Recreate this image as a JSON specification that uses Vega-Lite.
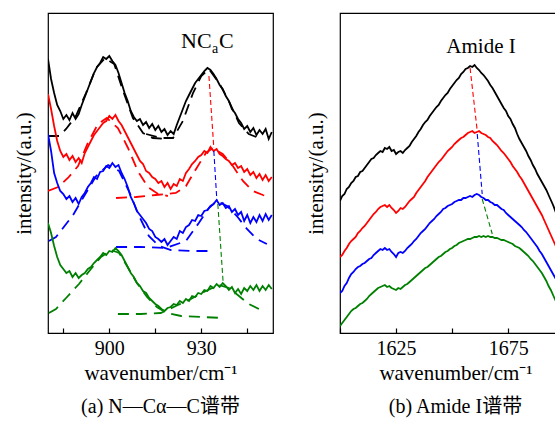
{
"$schema": "https://vega.github.io/schema/vega-lite/v6.json",
"padding": {"left": 12, "top": 12, "right": 0, "bottom": 0},
"spacing": 30,
"config": {
  "font": "Liberation Serif",
  "view": {"stroke": "black", "strokeWidth": 1.2},
  "axis": {"grid": false, "domain": false, "labelFont": "Liberation Serif", "titleFont": "Liberation Serif", "labelFontSize": 20, "titleFontSize": 21, "labelColor": "black", "titleColor": "black", "titleFontWeight": "normal", "tickColor": "black", "tickWidth": 1.2}
},
"datasets": {
  "sa": [
{"w":880,"k":274,"r":239,"b":199,"g":110},{"w":881,"k":254,"r":224,"b":182,"g":100},{"w":882,"k":240,"r":207,"b":160,"g":87},{"w":883,"k":228,"r":192,"b":150,"g":76},{"w":884,"k":222,"r":182,"b":142,"g":68},{"w":885,"k":214,"r":176,"b":139,"g":64},{"w":886,"k":218,"r":179,"b":134,"g":60},{"w":887,"k":213,"r":173,"b":137,"g":62},{"w":888,"k":220,"r":177,"b":131,"g":56},{"w":889,"k":214,"r":171,"b":135,"g":60},{"w":890,"k":219,"r":175,"b":129,"g":55},{"w":891,"k":228,"r":170,"b":136,"g":58},{"w":892,"k":236,"r":180,"b":140,"g":60},{"w":893,"k":244,"r":186,"b":146,"g":64},{"w":894,"k":252,"r":192,"b":150,"g":66},{"w":895,"k":260,"r":198,"b":156,"g":70},{"w":896,"k":266,"r":202,"b":154,"g":73},{"w":897,"k":270,"r":206,"b":161,"g":76},{"w":898,"k":276,"r":210,"b":162,"g":80},{"w":899,"k":274,"r":212,"b":167,"g":78},{"w":900,"k":277,"r":217,"b":165,"g":82},{"w":901,"k":272,"r":214,"b":170,"g":81},{"w":902,"k":268,"r":218,"b":166,"g":85},{"w":903,"k":260,"r":212,"b":168,"g":82},{"w":904,"k":250,"r":208,"b":160,"g":78},{"w":905,"k":240,"r":202,"b":154,"g":72},{"w":906,"k":232,"r":196,"b":146,"g":66},{"w":907,"k":222,"r":190,"b":136,"g":60},{"w":908,"k":216,"r":184,"b":130,"g":56},{"w":909,"k":212,"r":178,"b":122,"g":50},{"w":910,"k":214,"r":172,"b":118,"g":47},{"w":911,"k":208,"r":169,"b":114,"g":42},{"w":912,"k":211,"r":162,"b":110,"g":40},{"w":913,"k":205,"r":160,"b":104,"g":35},{"w":914,"k":209,"r":156,"b":102,"g":32},{"w":915,"k":203,"r":154,"b":96,"g":29},{"w":916,"k":207,"r":150,"b":94,"g":27},{"w":917,"k":201,"r":152,"b":91,"g":24},{"w":918,"k":204,"r":146,"b":94,"g":22},{"w":919,"k":198,"r":150,"b":88,"g":25},{"w":920,"k":202,"r":144,"b":92,"g":26},{"w":921,"k":199,"r":149,"b":96,"g":29},{"w":922,"k":208,"r":147,"b":94,"g":28},{"w":923,"k":216,"r":154,"b":102,"g":32},{"w":924,"k":224,"r":152,"b":100,"g":30},{"w":925,"k":232,"r":160,"b":106,"g":34},{"w":926,"k":238,"r":164,"b":108,"g":32},{"w":927,"k":244,"r":169,"b":113,"g":37},{"w":928,"k":250,"r":172,"b":112,"g":36},{"w":929,"k":254,"r":176,"b":118,"g":40},{"w":930,"k":258,"r":178,"b":117,"g":39},{"w":931,"k":262,"r":182,"b":122,"g":43},{"w":932,"k":265,"r":180,"b":123,"g":42},{"w":933,"k":263,"r":186,"b":127,"g":47},{"w":934,"k":259,"r":182,"b":129,"g":45},{"w":935,"k":254,"r":184,"b":133,"g":49},{"w":936,"k":248,"r":179,"b":128,"g":46},{"w":937,"k":244,"r":177,"b":130,"g":50},{"w":938,"k":237,"r":174,"b":125,"g":47},{"w":939,"k":232,"r":172,"b":127,"g":43},{"w":940,"k":224,"r":168,"b":121,"g":46},{"w":941,"k":220,"r":170,"b":124,"g":40},{"w":942,"k":214,"r":165,"b":118,"g":44},{"w":943,"k":210,"r":167,"b":121,"g":39},{"w":944,"k":204,"r":161,"b":112,"g":45},{"w":945,"k":207,"r":164,"b":118,"g":42},{"w":946,"k":201,"r":158,"b":110,"g":47},{"w":947,"k":205,"r":161,"b":116,"g":43},{"w":948,"k":198,"r":155,"b":111,"g":48},{"w":949,"k":203,"r":159,"b":118,"g":42},{"w":950,"k":199,"r":153,"b":112,"g":47},{"w":951,"k":204,"r":158,"b":119,"g":43},{"w":952,"k":194,"r":152,"b":113,"g":48},{"w":953,"k":201,"r":156,"b":118,"g":44}
  ],
  "fa": [
{"f":"k1","c":"k","w":880,"v":197},{"f":"k1","c":"k","w":883.6,"v":197},{"f":"k1","c":"k","w":885.9,"v":204},{"f":"k1","c":"k","w":889.1,"v":217},{"f":"k1","c":"k","w":892.4,"v":240},{"f":"k1","c":"k","w":895.7,"v":265},{"f":"k1","c":"k","w":898.6,"v":275},{"f":"k1","c":"k","w":901.6,"v":269},{"f":"k1","c":"k","w":904.5,"v":242},{"f":"k1","c":"k","w":907.7,"v":215},{"f":"k1","c":"k","w":911,"v":200},{"f":"k1","c":"k","w":914.2,"v":195},{"f":"k1","c":"k","w":918.5,"v":194},
{"f":"k2","c":"k","w":912,"v":199},{"f":"k2","c":"k","w":916.8,"v":195},{"f":"k2","c":"k","w":920.8,"v":195},{"f":"k2","c":"k","w":924,"v":212},{"f":"k2","c":"k","w":927.3,"v":240},{"f":"k2","c":"k","w":930,"v":257},{"f":"k2","c":"k","w":932.5,"v":264},{"f":"k2","c":"k","w":935.8,"v":250},{"f":"k2","c":"k","w":939,"v":232},{"f":"k2","c":"k","w":942.3,"v":210},{"f":"k2","c":"k","w":945.5,"v":199},{"f":"k2","c":"k","w":948.8,"v":195},
{"f":"r1","c":"r","w":880,"v":142},{"f":"r1","c":"r","w":883.3,"v":146},{"f":"r1","c":"r","w":886.5,"v":155},{"f":"r1","c":"r","w":889.8,"v":167},{"f":"r1","c":"r","w":893,"v":190},{"f":"r1","c":"r","w":896.3,"v":209},{"f":"r1","c":"r","w":899.2,"v":215},{"f":"r1","c":"r","w":902.8,"v":205},{"f":"r1","c":"r","w":906.1,"v":185},{"f":"r1","c":"r","w":909.3,"v":162},{"f":"r1","c":"r","w":912.6,"v":146},{"f":"r1","c":"r","w":915.9,"v":139},{"f":"r1","c":"r","w":919.1,"v":137},
{"f":"r2","c":"r","w":902.2,"v":135},{"f":"r2","c":"r","w":908.7,"v":136},{"f":"r2","c":"r","w":915.2,"v":138},{"f":"r2","c":"r","w":921.7,"v":140},{"f":"r2","c":"r","w":925,"v":147},{"f":"r2","c":"r","w":928.3,"v":164},{"f":"r2","c":"r","w":931.5,"v":180},{"f":"r2","c":"r","w":933.8,"v":185},{"f":"r2","c":"r","w":937,"v":179},{"f":"r2","c":"r","w":940.3,"v":167},{"f":"r2","c":"r","w":943.6,"v":152},{"f":"r2","c":"r","w":946.8,"v":142},{"f":"r2","c":"r","w":950.1,"v":138},{"f":"r2","c":"r","w":952.7,"v":136},
{"f":"b1","c":"b","w":880.3,"v":92},{"f":"b1","c":"b","w":882.6,"v":96},{"f":"b1","c":"b","w":884.9,"v":105},{"f":"b1","c":"b","w":888.2,"v":118},{"f":"b1","c":"b","w":891.4,"v":135},{"f":"b1","c":"b","w":895.7,"v":157},{"f":"b1","c":"b","w":899.6,"v":168},{"f":"b1","c":"b","w":903.2,"v":162},{"f":"b1","c":"b","w":906.4,"v":142},{"f":"b1","c":"b","w":909.7,"v":117},{"f":"b1","c":"b","w":912.9,"v":97},{"f":"b1","c":"b","w":916.2,"v":87},{"f":"b1","c":"b","w":920.1,"v":83},{"f":"b1","c":"b","w":926.6,"v":82},{"f":"b1","c":"b","w":932.5,"v":82},
{"f":"b2","c":"b","w":902.2,"v":86},{"f":"b2","c":"b","w":910.3,"v":86},{"f":"b2","c":"b","w":918.5,"v":85},{"f":"b2","c":"b","w":925,"v":92},{"f":"b2","c":"b","w":929.2,"v":110},{"f":"b2","c":"b","w":932.5,"v":125},{"f":"b2","c":"b","w":935.1,"v":132},{"f":"b2","c":"b","w":938.4,"v":127},{"f":"b2","c":"b","w":941.6,"v":117},{"f":"b2","c":"b","w":944.9,"v":104},{"f":"b2","c":"b","w":948.1,"v":94},{"f":"b2","c":"b","w":951.4,"v":89},
{"f":"g1","c":"g","w":880.3,"v":20},{"f":"g1","c":"g","w":882.6,"v":24},{"f":"g1","c":"g","w":885.9,"v":35},{"f":"g1","c":"g","w":890.1,"v":49},{"f":"g1","c":"g","w":894,"v":64},{"f":"g1","c":"g","w":897.3,"v":76},{"f":"g1","c":"g","w":900.6,"v":83},{"f":"g1","c":"g","w":903.2,"v":80},{"f":"g1","c":"g","w":905.8,"v":67},{"f":"g1","c":"g","w":909,"v":50},{"f":"g1","c":"g","w":912.3,"v":36},{"f":"g1","c":"g","w":915.5,"v":26},{"f":"g1","c":"g","w":918.8,"v":20},{"f":"g1","c":"g","w":923.4,"v":17},{"f":"g1","c":"g","w":929.9,"v":16},{"f":"g1","c":"g","w":937.1,"v":15},
{"f":"g2","c":"g","w":902.8,"v":19},{"f":"g2","c":"g","w":910.3,"v":19},{"f":"g2","c":"g","w":916.8,"v":20},{"f":"g2","c":"g","w":921.7,"v":27},{"f":"g2","c":"g","w":926.6,"v":34},{"f":"g2","c":"g","w":931.5,"v":42},{"f":"g2","c":"g","w":935.8,"v":48},{"f":"g2","c":"g","w":939,"v":45},{"f":"g2","c":"g","w":942.3,"v":37},{"f":"g2","c":"g","w":945.5,"v":29},{"f":"g2","c":"g","w":948.8,"v":24}
  ],
  "ca": [
{"c":"r","w":932.5,"v":257},{"c":"r","w":934.1,"v":185},{"c":"b","w":934.1,"v":182},{"c":"b","w":935.1,"v":132},{"c":"g","w":935.4,"v":129},{"c":"g","w":937.1,"v":52}
  ],
  "la": [{"w":923.4,"v":285}],
  "sb": [
{"w":1600,"k":132,"r":76,"b":40,"g":7},{"w":1601,"k":137,"r":78,"b":42,"g":10},{"w":1602,"k":139,"r":82,"b":47,"g":13},{"w":1603,"k":144,"r":85,"b":50,"g":16},{"w":1604,"k":146,"r":89,"b":55,"g":19},{"w":1605,"k":150,"r":92,"b":59,"g":22},{"w":1606,"k":152,"r":94,"b":61,"g":24},{"w":1607,"k":156,"r":96,"b":64,"g":25},{"w":1608,"k":157,"r":100,"b":66,"g":27},{"w":1609,"k":161,"r":102,"b":67,"g":29},{"w":1610,"k":162,"r":105,"b":69,"g":30},{"w":1611,"k":165,"r":107,"b":70,"g":32},{"w":1612,"k":168,"r":110,"b":72,"g":34},{"w":1613,"k":171,"r":113,"b":74,"g":37},{"w":1614,"k":174,"r":116,"b":75,"g":39},{"w":1615,"k":175,"r":119,"b":78,"g":41},{"w":1616,"k":178,"r":121,"b":80,"g":43},{"w":1617,"k":180,"r":124,"b":82,"g":45},{"w":1618,"k":182,"r":126,"b":84,"g":46},{"w":1619,"k":181,"r":127,"b":83,"g":47},{"w":1620,"k":185,"r":128,"b":85,"g":48},{"w":1621,"k":184,"r":126,"b":83,"g":46},{"w":1622,"k":186,"r":128,"b":84,"g":47},{"w":1623,"k":182,"r":125,"b":81,"g":45},{"w":1624,"k":183,"r":123,"b":79,"g":44},{"w":1625,"k":179,"r":120,"b":76,"g":43},{"w":1626,"k":181,"r":122,"b":80,"g":45},{"w":1627,"k":182,"r":125,"b":81,"g":44},{"w":1628,"k":180,"r":124,"b":80,"g":46},{"w":1629,"k":183,"r":126,"b":82,"g":48},{"w":1630,"k":185,"r":129,"b":85,"g":49},{"w":1631,"k":187,"r":132,"b":87,"g":51},{"w":1632,"k":191,"r":134,"b":89,"g":53},{"w":1633,"k":194,"r":136,"b":92,"g":55},{"w":1634,"k":197,"r":140,"b":94,"g":57},{"w":1635,"k":201,"r":143,"b":97,"g":59},{"w":1636,"k":204,"r":146,"b":100,"g":61},{"w":1637,"k":208,"r":149,"b":102,"g":63},{"w":1638,"k":211,"r":152,"b":104,"g":65},{"w":1639,"k":213,"r":156,"b":107,"g":66},{"w":1640,"k":217,"r":159,"b":110,"g":68},{"w":1641,"k":220,"r":162,"b":112,"g":70},{"w":1642,"k":223,"r":165,"b":114,"g":72},{"w":1643,"k":226,"r":168,"b":117,"g":74},{"w":1644,"k":228,"r":171,"b":119,"g":76},{"w":1645,"k":232,"r":173,"b":121,"g":77},{"w":1646,"k":235,"r":176,"b":124,"g":79},{"w":1647,"k":238,"r":179,"b":125,"g":81},{"w":1648,"k":240,"r":182,"b":127,"g":82},{"w":1649,"k":244,"r":184,"b":128,"g":84},{"w":1650,"k":247,"r":186,"b":129,"g":85},{"w":1651,"k":250,"r":189,"b":131,"g":87},{"w":1652,"k":253,"r":191,"b":132,"g":88},{"w":1653,"k":255,"r":193,"b":133,"g":90},{"w":1654,"k":259,"r":195,"b":133,"g":91},{"w":1655,"k":261,"r":196,"b":135,"g":92},{"w":1656,"k":264,"r":198,"b":135,"g":93},{"w":1657,"k":265,"r":200,"b":136,"g":94},{"w":1658,"k":267,"r":201,"b":137,"g":94},{"w":1659,"k":266,"r":202,"b":136,"g":95},{"w":1660,"k":268,"r":200,"b":138,"g":96},{"w":1661,"k":265,"r":201,"b":139,"g":96},{"w":1662,"k":263,"r":202,"b":138,"g":97},{"w":1663,"k":260,"r":200,"b":136,"g":96},{"w":1664,"k":258,"r":199,"b":135,"g":97},{"w":1665,"k":255,"r":198,"b":133,"g":96},{"w":1666,"k":252,"r":196,"b":133,"g":97},{"w":1667,"k":248,"r":195,"b":131,"g":96},{"w":1668,"k":245,"r":192,"b":130,"g":96},{"w":1669,"k":241,"r":190,"b":128,"g":95},{"w":1670,"k":237,"r":188,"b":128,"g":95},{"w":1671,"k":233,"r":185,"b":126,"g":94},{"w":1672,"k":229,"r":182,"b":124,"g":93},{"w":1673,"k":225,"r":180,"b":123,"g":93},{"w":1674,"k":222,"r":177,"b":120,"g":92},{"w":1675,"k":217,"r":174,"b":118,"g":91},{"w":1676,"k":214,"r":171,"b":116,"g":90},{"w":1677,"k":209,"r":167,"b":114,"g":89},{"w":1678,"k":205,"r":164,"b":112,"g":87},{"w":1679,"k":199,"r":161,"b":110,"g":86},{"w":1680,"k":194,"r":157,"b":108,"g":85},{"w":1681,"k":190,"r":154,"b":106,"g":83},{"w":1682,"k":186,"r":150,"b":103,"g":81},{"w":1683,"k":182,"r":146,"b":101,"g":79},{"w":1684,"k":177,"r":142,"b":98,"g":77},{"w":1685,"k":173,"r":138,"b":95,"g":74},{"w":1686,"k":168,"r":134,"b":92,"g":72},{"w":1687,"k":164,"r":130,"b":89,"g":69},{"w":1688,"k":159,"r":126,"b":86,"g":66},{"w":1689,"k":155,"r":122,"b":82,"g":63},{"w":1690,"k":151,"r":118,"b":79,"g":60},{"w":1691,"k":147,"r":113,"b":75,"g":56},{"w":1692,"k":143,"r":108,"b":71,"g":52},{"w":1693,"k":138,"r":103,"b":67,"g":47},{"w":1694,"k":133,"r":98,"b":63,"g":43},{"w":1695,"k":128,"r":93,"b":59,"g":38},{"w":1696,"k":122,"r":88,"b":55,"g":33},{"w":1697,"k":116,"r":83,"b":51,"g":28},{"w":1698,"k":110,"r":78,"b":47,"g":23},{"w":1699,"k":104,"r":73,"b":43,"g":18},{"w":1700,"k":98,"r":68,"b":39,"g":13},{"w":1701,"k":92,"r":63,"b":35,"g":8},{"w":1702,"k":86,"r":58,"b":31,"g":3},{"w":1703,"k":80,"r":53,"b":27,"g":0}
  ],
  "cb": [
{"c":"r","w":1658,"v":265},{"c":"r","w":1661.2,"v":202},{"c":"b","w":1661.2,"v":199},{"c":"b","w":1663.4,"v":139},{"c":"g","w":1663.4,"v":134},{"c":"g","w":1667.9,"v":99}
  ],
  "lb": [{"w":1662.9,"v":280}]
},
"hconcat": [
  {
    "width": 225, "height": 320,
    "title": {"text": "(a) N—Cα—C谱带", "orient": "bottom", "fontSize": 20, "font": "Liberation Serif, Noto Sans CJK SC", "fontWeight": "normal", "color": "black", "offset": 14, "anchor": "middle"},
    "encoding": {
      "x": {"field": "w", "type": "quantitative", "scale": {"domain": [880, 953.4], "nice": false, "zero": false},
            "axis": {"title": "wavenumber/cm⁻¹", "values": [885, 900, 915, 930, 945], "labelExpr": "datum.value == 900 || datum.value == 930 ? datum.label : ''", "tickSize": -5, "labelPadding": 10, "titlePadding": 4}},
      "y": {"field": "v", "type": "quantitative", "scale": {"domain": [0, 320], "nice": false, "zero": false},
            "axis": {"title": "intensity/(a.u.)", "labels": false, "ticks": false, "titlePadding": 14}},
      "color": {"field": "c", "type": "nominal", "scale": {"domain": ["k", "r", "b", "g"], "range": ["#000000", "#ff0000", "#0000ff", "#008000"]}, "legend": null}
    },
    "layer": [
      {"data": {"name": "fa"}, "mark": {"type": "line", "strokeDash": [11, 7], "strokeWidth": 1.8, "clip": true}, "encoding": {"detail": {"field": "f"}}},
      {"data": {"name": "sa"}, "transform": [{"fold": ["k", "r", "b", "g"], "as": ["c", "v"]}], "mark": {"type": "line", "strokeWidth": 1.8, "clip": true}},
      {"data": {"name": "ca"}, "mark": {"type": "line", "strokeDash": [5, 3], "strokeWidth": 1.1, "clip": true}},
      {"data": {"name": "la"}, "mark": {"type": "text", "text": "NC", "fontSize": 22, "font": "Liberation Serif", "align": "left", "baseline": "alphabetic", "fill": "black"}, "encoding": {"color": {"value": "black"}}},
      {"data": {"name": "la"}, "mark": {"type": "text", "text": "a", "fontSize": 14, "font": "Liberation Serif", "align": "left", "baseline": "alphabetic", "dx": 31, "dy": 5, "fill": "black"}, "encoding": {"color": {"value": "black"}}},
      {"data": {"name": "la"}, "mark": {"type": "text", "text": "C", "fontSize": 22, "font": "Liberation Serif", "align": "left", "baseline": "alphabetic", "dx": 38, "fill": "black"}, "encoding": {"color": {"value": "black"}}}
    ]
  },
  {
    "width": 231, "height": 320,
    "title": {"text": "(b) Amide I谱带", "orient": "bottom", "fontSize": 20, "font": "Liberation Serif, Noto Sans CJK SC", "fontWeight": "normal", "color": "black", "offset": 14, "anchor": "middle"},
    "encoding": {
      "x": {"field": "w", "type": "quantitative", "scale": {"domain": [1600, 1703], "nice": false, "zero": false},
            "axis": {"title": "wavenumber/cm⁻¹", "values": [1600, 1625, 1650, 1675, 1700], "labelExpr": "datum.value == 1625 || datum.value == 1675 ? datum.label : ''", "format": "d", "tickSize": -5, "labelPadding": 10, "titlePadding": 4}},
      "y": {"field": "v", "type": "quantitative", "scale": {"domain": [0, 320], "nice": false, "zero": false},
            "axis": {"title": "intensity/(a.u.)", "labels": false, "ticks": false, "titlePadding": 14}},
      "color": {"field": "c", "type": "nominal", "scale": {"domain": ["k", "r", "b", "g"], "range": ["#000000", "#ff0000", "#0000ff", "#008000"]}, "legend": null}
    },
    "layer": [
      {"data": {"name": "sb"}, "transform": [{"fold": ["k", "r", "b", "g"], "as": ["c", "v"]}], "mark": {"type": "line", "strokeWidth": 1.8, "clip": true}},
      {"data": {"name": "cb"}, "mark": {"type": "line", "strokeDash": [5, 3], "strokeWidth": 1.1, "clip": true}},
      {"data": {"name": "lb"}, "mark": {"type": "text", "text": "Amide I", "fontSize": 21, "font": "Liberation Serif", "align": "center", "baseline": "alphabetic", "fill": "black"}, "encoding": {"color": {"value": "black"}}}
    ]
  }
]
}
